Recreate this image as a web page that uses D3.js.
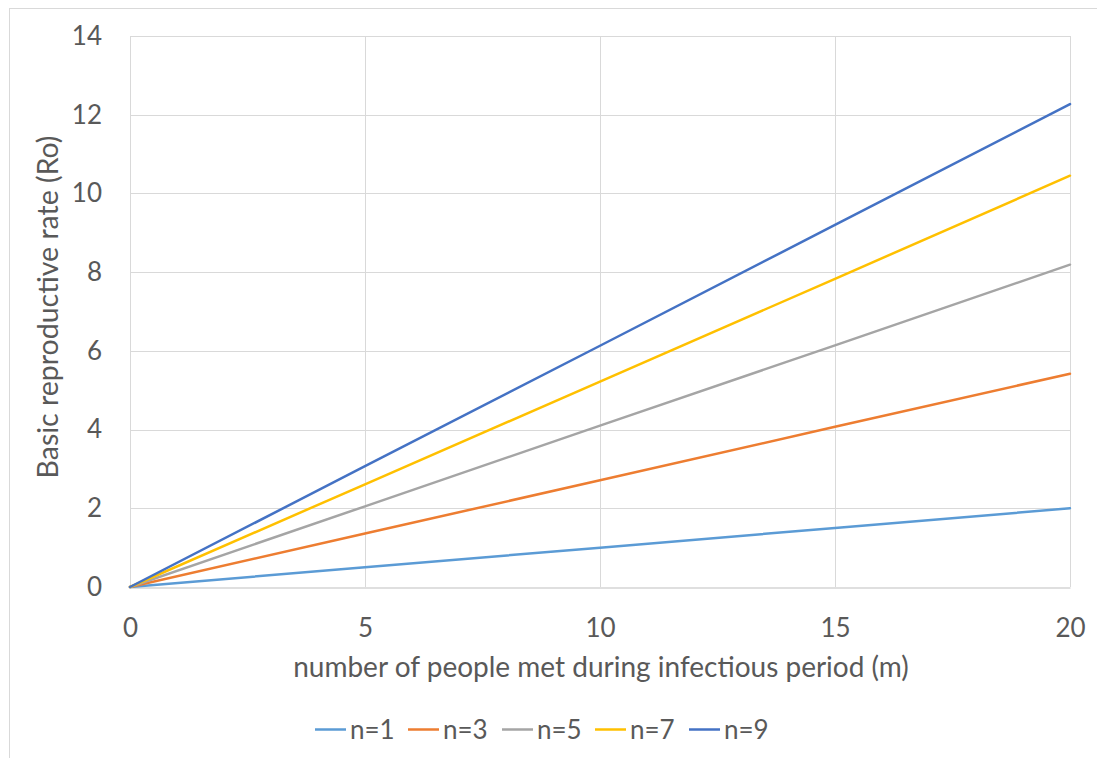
<!DOCTYPE html>
<html>
<head>
<meta charset="utf-8">
<script src="https://cdn.jsdelivr.net/npm/d3@7"></script>
<style>
  html, body { margin: 0; padding: 0; background: #fff; }
  svg { display: block; font-family: Lato, "Open Sans", sans-serif; }
</style>
</head>
<body>
<svg id="chart" width="1097" height="758"></svg>
<script>
// Number of people met during the infectious period (m)
const meetings = [0, 5, 10, 15, 20];
// Basic reproductive rate for each n
const seriesNames = ["n=1", "n=3", "n=5", "n=7", "n=9"];
const r0n1 = [0, 0.50, 1.00, 1.50, 2.00];
const r0n3 = [0, 1.36, 2.71, 4.07, 5.42];
const r0n5 = [0, 2.05, 4.10, 6.14, 8.19];
const r0n7 = [0, 2.61, 5.22, 7.83, 10.45];
const r0n9 = [0, 3.07, 6.13, 9.20, 12.27];
const seriesColors = ["#5b9bd5", "#ed7d31", "#a5a5a5", "#ffc000", "#4472c4"];
const xTicks = [0, 5, 10, 15, 20];
const yTicks = [0, 2, 4, 6, 8, 10, 12, 14];

const seriesValues = [r0n1, r0n3, r0n5, r0n7, r0n9];
const series = seriesNames.map((name, i) => ({
  name,
  color: seriesColors[i],
  points: meetings.map((m, j) => ({ m, r: seriesValues[i][j] }))
}));

const FONT = "Lato, 'Open Sans', sans-serif";
const FS = 26;       // tick labels and legend
const FS_TITLE = 28; // axis titles
const TEXT = "#595959";

const svg = d3.select("#chart");
const plot = { left: 130, right: 1070, top: 36, bottom: 587 };

// chart frame
svg.append("rect")
  .attr("x", 9.5).attr("y", 8.5)
  .attr("width", 1200).attr("height", 800)
  .attr("fill", "#fff").attr("stroke", "#d9d9d9").attr("stroke-width", 1);

const x = d3.scaleLinear().domain([0, 20]).range([plot.left, plot.right]);
const y = d3.scaleLinear().domain([0, 14]).range([plot.bottom, plot.top]);

// gridlines
const grid = svg.append("g");
grid.selectAll("line.h").data(yTicks.filter(t => t > 0)).join("line")
  .attr("x1", plot.left).attr("x2", plot.right)
  .attr("y1", d => Math.round(y(d)) + 0.5).attr("y2", d => Math.round(y(d)) + 0.5)
  .attr("stroke", "#d9d9d9").attr("stroke-width", 1);
grid.selectAll("line.v").data(xTicks).join("line")
  .attr("y1", plot.top).attr("y2", plot.bottom)
  .attr("x1", d => Math.round(x(d)) + 0.5).attr("x2", d => Math.round(x(d)) + 0.5)
  .attr("stroke", "#d9d9d9").attr("stroke-width", 1);

// axes
const xAxis = svg.append("g")
  .attr("transform", `translate(0,${Math.round(y(0)) + 0.5})`)
  .call(d3.axisBottom(x).tickValues(xTicks).tickSize(0).tickPadding(31));
xAxis.select(".domain").attr("stroke", "#bfbfbf");
xAxis.selectAll("text").attr("font-size", FS).attr("fill", TEXT).attr("font-family", FONT);

const yAxis = svg.append("g")
  .attr("transform", `translate(${plot.left},0)`)
  .call(d3.axisLeft(y).tickValues(yTicks).tickSize(0).tickPadding(28));
yAxis.select(".domain").remove();
yAxis.selectAll("text").attr("font-size", FS).attr("fill", TEXT).attr("font-family", FONT);

// series lines
const line = d3.line().x(d => x(d.m)).y(d => y(d.r));
svg.append("g").selectAll("path").data(series).join("path")
  .attr("d", d => line(d.points))
  .attr("fill", "none")
  .attr("stroke", d => d.color)
  .attr("stroke-width", 2.5)
  .attr("stroke-linecap", "round");

// axis titles
svg.append("text")
  .attr("x", 601).attr("y", 677)
  .attr("text-anchor", "middle").attr("font-size", FS_TITLE).attr("fill", TEXT)
  .text("number of people met during infectious period (m)");
svg.append("text")
  .attr("transform", `translate(58,307) rotate(-90)`)
  .attr("text-anchor", "middle").attr("font-size", 28.5).attr("fill", TEXT)
  .text("Basic reproductive rate (Ro)");

// legend
const legendX = [315, 408, 502, 595, 689];
const legend = svg.append("g").selectAll("g").data(series).join("g")
  .attr("transform", (d, i) => `translate(${legendX[i]},729.5)`);
legend.append("line")
  .attr("x1", 0).attr("x2", 31).attr("y1", 0).attr("y2", 0)
  .attr("stroke", d => d.color).attr("stroke-width", 2.5);
legend.append("text")
  .attr("x", 35).attr("y", 9)
  .attr("font-size", FS).attr("fill", TEXT)
  .text(d => d.name);
</script>
</body>
</html>
